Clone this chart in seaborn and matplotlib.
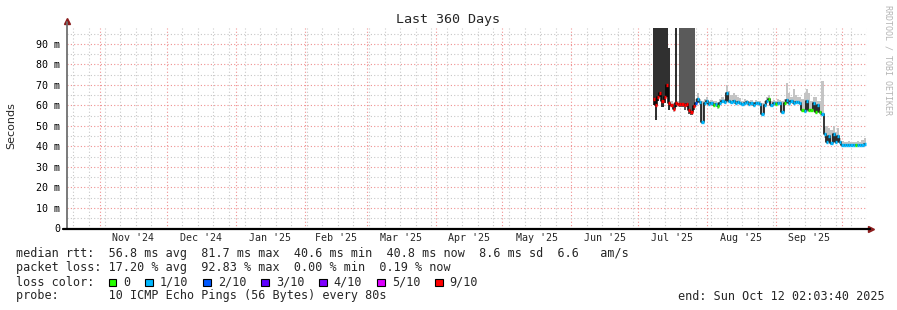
import datetime as dt
import numpy as np
import pandas as pd
import matplotlib
matplotlib.use("Agg")
import matplotlib.pyplot as plt
import matplotlib.patches as mpatches
from matplotlib.ticker import FixedLocator, FuncFormatter
import seaborn as sns

# ---------------- data ----------------
start = dt.datetime(2024, 10, 17, 2, 3, 40)
end = dt.datetime(2025, 10, 12, 2, 3, 40)

days = list(range(264, 360))  # sample day index since start

median_ms = [63, 60, 64, 66, 62, 64, 70, 61, 60, 58.5, 61, 60.5, 60.5, 60.5, 60, 60.5,
             58, 57, 59.5, 61, 63, 61.5, 52, 61, 62, 60.5, 61, 60, 60.5, 59.5, 61, 62,
             61.5, 66, 62, 61.5, 62, 61, 61.5, 61, 60.5, 61, 61.5, 60.5, 61, 60, 61, 61,
             60.5, 56, 60, 62, 63, 60, 61, 60.5, 61, 61, 57, 61, 62.5, 61, 62, 61,
             61.5, 61.5, 61, 58, 57.5, 62, 58, 58, 61, 57, 60, 57, 56, 46, 42, 45,
             41.5, 46, 42, 45, 42, 40.5, 40.5, 40.7, 40.5, 40.5, 40.6, 40.5, 40.6, 40.5, 40.8, 41]

smoke_lo = [60, 53, 62, 64, 59, 61, 64, 58, 59, 57, 59, 59, 59, 59, 58, 59,
            56, 55.5, 58, 59, 61, 60, 51, 59.5, 60.5, 59.5, 60, 59, 59.5, 58.5, 60, 61,
            60.5, 62, 61, 60.5, 61, 60, 60.5, 60, 59.5, 60, 60.5, 59.5, 60, 59, 60, 60,
            59.5, 55, 59, 61, 62, 59, 60, 59.5, 60, 60, 56, 60, 61, 60, 61, 60,
            60.5, 60.5, 60, 57, 56.5, 57, 57, 57, 57, 56, 56.5, 56, 55, 44, 41, 42,
            40.5, 42, 41, 41.5, 41, 40, 40, 40, 40, 40, 40, 40, 40, 40, 40, 40]

smoke_hi = [100, 100, 100, 100, 100, 100, 100, 88, 62, 61, 100, 62, 100, 100, 100, 100,
            100, 100, 100, 63, 66, 63, 62, 63, 64, 62, 62.5, 62, 62, 61.5, 63, 64,
            63, 70, 67, 65, 66, 65, 64, 63.5, 62, 63, 62.5, 62, 62.5, 61.5, 62.5, 62,
            62, 61, 62, 64, 65, 62, 62.5, 62, 63, 62.5, 62, 63, 71, 66, 64, 68,
            65, 64, 64, 63, 66, 68, 66, 62, 64, 64, 62, 62, 72, 50, 50, 49,
            48, 50, 47, 49, 44, 42.5, 42, 42, 42.5, 42, 42, 42, 42.5, 42, 43, 44]

# smoke density class: 0 normal, 1 very dense, 2 dense
smoke_class = [1, 1, 1, 1, 1, 1, 1, 1, 0, 0, 1, 0, 2, 2, 2, 2,
               2, 2, 2] + [0] * 77

# loss class (tenths of pings lost)
loss = [9] * 19 + [2, 1, 1, 1, 1, 1, 1, 1, 0, 1, 0, 1, 1,
                   1, 1, 1, 1, 1, 1, 1, 1, 1, 1, 1, 1, 1, 1, 1, 1,
                   1, 1, 1, 1, 0, 1, 1, 0, 1, 1, 1, 0, 1, 1, 1, 1,
                   1, 1, 1, 0, 1, 1, 0, 0, 1, 0, 1, 0, 1, 1, 1, 1,
                   1, 1, 1, 1, 1, 1, 1, 1, 1, 1, 1, 0, 1, 1, 1, 1]

loss_labels = ["0", "1/10", "2/10", "3/10", "4/10", "5/10", "9/10"]
loss_colors = ["#26ff00", "#00b8ff", "#0059ff", "#5e00ff", "#7e00ff", "#dd00ff", "#ff0000"]
loss_color_map = {0: "#26ff00", 1: "#00b8ff", 2: "#0059ff", 3: "#5e00ff",
                  4: "#7e00ff", 5: "#dd00ff", 9: "#ff0000"}
smoke_colors = {0: "#c4c4c4", 1: "#303030", 2: "#5a5a5a"}

month_labels = ["Nov '24", "Dec '24", "Jan '25", "Feb '25", "Mar '25", "Apr '25",
                "May '25", "Jun '25", "Jul '25", "Aug '25", "Sep '25"]

stats_line1 = "median rtt:  56.8 ms avg  81.7 ms max  40.6 ms min  40.8 ms now  8.6 ms sd  6.6   am/s"
stats_line2 = "packet loss: 17.20 % avg  92.83 % max  0.00 % min  0.19 % now"
probe_line = "probe:       10 ICMP Echo Pings (56 Bytes) every 80s"
end_line = "end: Sun Oct 12 02:03:40 2025"

# ---------------- figure ----------------
sns.set_style("white")
plt.rcParams["font.family"] = ["DejaVu Sans Mono", "DejaVu Sans"]

W, H = 897, 310
fig = plt.figure(figsize=(W / 100, H / 100), dpi=100)
fig.patch.set_facecolor("white")
x0, x1, ytop, ybot = 67, 867, 27.5, 228.5
ax = fig.add_axes([x0 / W, 1 - ybot / H, (x1 - x0) / W, (ybot - ytop) / H])
ax.set_facecolor("white")

df = pd.DataFrame({
    "day": days,
    "median": np.array(median_ms) / 1000.0,
    "lo": np.array(smoke_lo) / 1000.0,
    "hi": np.array(smoke_hi) / 1000.0,
    "cls": smoke_class,
    "loss": loss,
})

span = (end - start).total_seconds() / 86400.0
ax.set_xlim(0, span)
ax.set_ylim(0, 0.098)

# grid: weekly minor, monthly major
def dd(t):
    return (t - start).total_seconds() / 86400.0

month_starts = []
m = dt.datetime(2024, 11, 1)
while m < end:
    month_starts.append(dd(m))
    m = dt.datetime(m.year + (m.month // 12), m.month % 12 + 1, 1)
weeks = []
w = dt.datetime(2024, 10, 20)
while w < end:
    weeks.append(dd(w))
    w += dt.timedelta(days=7)

ax.xaxis.set_major_locator(FixedLocator(month_starts))
ax.xaxis.set_minor_locator(FixedLocator(weeks))
ax.yaxis.set_major_locator(FixedLocator(np.arange(0, 0.0951, 0.01)))
ax.yaxis.set_minor_locator(FixedLocator(np.arange(0.005, 0.0981, 0.01)))
ax.grid(True, which="minor", color="#c8c8c8", linestyle=(0, (1, 2)), linewidth=0.8)
ax.grid(True, which="major", color="#f09090", linestyle=(0, (1, 2)), linewidth=0.8)
ax.set_axisbelow(True)
ax.tick_params(axis="x", which="both", length=0, labelbottom=False)
ax.tick_params(axis="y", which="major", length=0, pad=5, labelsize=7.2, colors="black")
ax.tick_params(axis="y", which="minor", length=0)
ax.yaxis.set_major_formatter(FuncFormatter(lambda v, p: "0" if v < 1e-9 else f"{int(round(v * 1000))} m"))
for s in ax.spines.values():
    s.set_visible(False)

# month labels centered in each month
bounds = [0.0] + month_starts + [span]
for i, lab in enumerate(month_labels):
    a, b = month_starts[i], (month_starts[i + 1] if i + 1 < len(month_starts) else span)
    ax.text((a + b) / 2, -0.045, lab, transform=ax.get_xaxis_transform(),
            ha="center", va="center", fontsize=7.2)

# smoke
ax.bar(df["day"], df["hi"] - df["lo"], bottom=df["lo"], width=1.0,
       color=[smoke_colors[c] for c in df["cls"]], linewidth=0, zorder=2)

# median: black connecting step line + loss coloured segments
sns.lineplot(data=df, x="day", y="median", ax=ax, color="black", linewidth=1.1,
             drawstyle="steps-mid", zorder=3, estimator=None)
ax.hlines(df["median"], df["day"] - 0.5, df["day"] + 0.5,
          colors=[loss_color_map[l] for l in df["loss"]], linewidth=2.4, zorder=4)
ax.set_xlabel("")
ax.set_ylabel("")

# axes lines + arrows
ax.plot([0, 0], [0, 1.025], transform=ax.transAxes, color="#707070", lw=1.3, clip_on=False, zorder=5)
ax.plot([-0.005, 1.004], [0, 0], transform=ax.transAxes, color="black", lw=1.6, clip_on=False, zorder=5)
ax.plot([0], [1.03], marker="^", transform=ax.transAxes, color="#8b1c1c", markersize=4, clip_on=False)
ax.plot([1.005], [0], marker=">", transform=ax.transAxes, color="#8b1c1c", markersize=4, clip_on=False)

# texts
fig.text(448 / W, 1 - 19 / H, "Last 360 Days", ha="center", va="center", fontsize=9.6)
fig.text(11 / W, 1 - 126 / H, "Seconds", rotation=90, ha="center", va="center",
         fontsize=8, family=["DejaVu Sans"])
fig.text(888 / W, 1 - 5 / H, "RRDTOOL / TOBI OETIKER", rotation=270, ha="center", va="top",
         fontsize=6, color="#b4b4b4")

fs = 8.5
cw = 7.12
fig.text(16 / W, 1 - 254 / H, stats_line1, ha="left", va="center", fontsize=fs)
fig.text(16 / W, 1 - 268 / H, stats_line2, ha="left", va="center", fontsize=fs)
fig.text(16 / W, 1 - 282 / H, "loss color:", ha="left", va="center", fontsize=fs)
fig.text(16 / W, 1 - 296 / H, probe_line, ha="left", va="center", fontsize=fs)
fig.text(678 / W, 1 - 296 / H, end_line, ha="left", va="center", fontsize=fs)

xp = 108.7
sq = 7.3
for lab, col in zip(loss_labels, loss_colors):
    fig.patches.append(mpatches.Rectangle((xp / W, 1 - (282.3 + sq / 2) / H), sq / W, sq / H,
                                          transform=fig.transFigure, facecolor=col,
                                          edgecolor="black", linewidth=0.8))
    tx = xp + 14.5
    fig.text(tx / W, 1 - 282 / H, lab, ha="left", va="center", fontsize=fs)
    xp = tx + len(lab) * cw + 15

fig.savefig("out.png", dpi=100, facecolor="white")
